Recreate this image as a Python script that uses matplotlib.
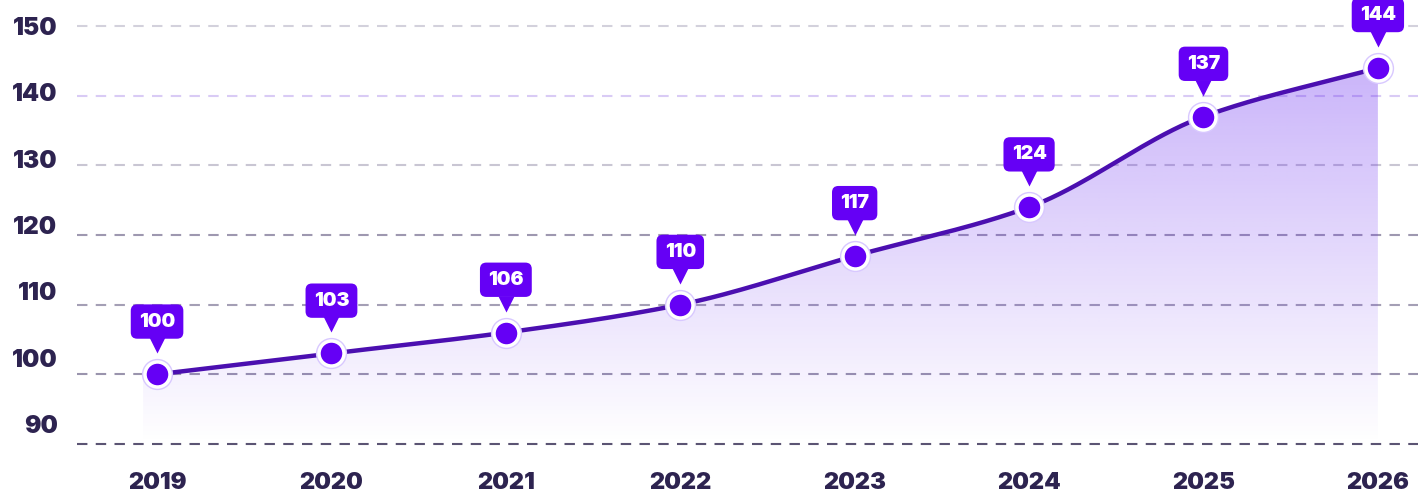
'''
line chart with filled gradient area and value callouts
'''
import numpy as np
import matplotlib
matplotlib.use("Agg")
import matplotlib.pyplot as plt
from matplotlib.transforms import offset_copy

years = ['2019', '2020', '2021', '2022', '2023', '2024', '2025', '2026']
values = [100, 103, 106, 110, 117, 124, 137, 144]
yTicks = [90, 100, 110, 120, 130, 140, 150]
gridColors = ['#5b5473', '#9a94ad', '#a49fb5', '#9e98b0', '#c9c6d3', '#d9cbf5', '#d3d1dc']

LINE = '#4b0fb0'
DOT = '#6500f5'
TEXT = '#2d2350'
WEIGHT = 'black'


def monotone(x, y, n=40):
	'''monotone cubic (Fritsch-Carlson) through the points'''
	x = np.asarray(x, float)
	y = np.asarray(y, float)
	h = np.diff(x)
	d = np.diff(y) / h
	m = np.zeros_like(y)
	m[0], m[-1] = d[0], d[-1]
	for i in range(1, len(y) - 1):
		if d[i - 1] * d[i] <= 0:
			m[i] = 0
		else:
			m[i] = 3 * (h[i - 1] + h[i]) / ((2 * h[i] + h[i - 1]) / d[i - 1] + (h[i] + 2 * h[i - 1]) / d[i])
	xs, ys = [], []
	for i in range(len(h)):
		t = np.linspace(0, 1, n, endpoint=(i == len(h) - 1))
		h00 = 2 * t**3 - 3 * t**2 + 1
		h10 = t**3 - 2 * t**2 + t
		h01 = -2 * t**3 + 3 * t**2
		h11 = t**3 - t**2
		xs.append(x[i] + t * h[i])
		ys.append(h00 * y[i] + h10 * h[i] * m[i] + h01 * y[i + 1] + h11 * h[i] * m[i + 1])
	return np.concatenate(xs), np.concatenate(ys)


def main():
	plt.rcParams['font.family'] = ['Inter', 'DejaVu Sans']
	fig = plt.figure(figsize=(14.18, 4.93), dpi=100)
	ax = fig.add_axes([77 / 1418., 38 / 493., 1 - 77 / 1418., 445 / 493.])

	X = np.arange(len(years))
	ax.set_xlim(-0.459, 7.23)
	ax.set_ylim(88.42, 152.3)

	# dashed grid
	for v, c in zip(yTicks, gridColors):
		ax.axhline(v, color=c, lw=1.5, dashes=(5, 4), zorder=1)

	# smooth line + gradient fill
	xs, ys = monotone(X, values)
	fillX = np.concatenate([[X[0] - 0.08], xs])
	fillY = np.concatenate([[ys[0]], ys])
	poly = ax.fill_between(fillX, fillY, 90, color='none', lw=0)
	grad = np.zeros((256, 2, 4))
	base = np.array([106, 44, 240]) / 255.
	grad[:, :, :3] = base
	grad[:, :, 3] = np.linspace(0.36, 0.0, 256)[:, None]
	img = ax.imshow(grad, extent=[fillX[0], X[-1], 90, 145], aspect='auto', origin='upper', zorder=2)
	img.set_clip_path(poly.get_paths()[0], transform=ax.transData)

	ax.plot(xs, ys, color=LINE, lw=3.2, zorder=3, solid_capstyle='round')
	ax.plot(X, values, 'o', ms=21.5, mfc='white', mec='#d8c8ff', mew=1.0, zorder=4)
	ax.plot(X, values, 'o', ms=15.5, mfc=DOT, mec='none', zorder=5)

	# callouts
	tri = offset_copy(ax.transData, fig=fig, x=0, y=29, units='dots')
	ax.plot(X, values, 'v', ms=11, mfc=DOT, mec='none', transform=tri, zorder=6)
	for x, v in zip(X, values):
		ax.annotate(str(v), xy=(x, v), xytext=(0, 38), textcoords='offset points',
			ha='center', va='center', color='white', fontsize=14, fontweight=WEIGHT, zorder=7,
			bbox=dict(boxstyle='round,pad=0.42,rounding_size=0.33', fc=DOT, ec='none'))

	ax.set_xticks(X)
	ax.set_xticklabels(years)
	ax.set_yticks([])
	ax.tick_params(axis='x', length=0, pad=12, labelsize=17, labelcolor=TEXT)
	for lab in ax.get_xticklabels():
		lab.set_fontweight(WEIGHT)
	for s in ax.spines.values():
		s.set_visible(False)

	# y labels sit on a slightly compressed scale
	ax2 = ax.twinx()
	ax2.set_ylim(85.33, 152.41)
	ax2.yaxis.tick_left()
	ax2.set_yticks(yTicks)
	ax2.tick_params(axis='y', length=0, pad=14, labelsize=17.5, labelcolor=TEXT)
	for lab in ax2.get_yticklabels():
		lab.set_fontweight(WEIGHT)
	for s in ax2.spines.values():
		s.set_visible(False)

	fig.savefig('out.png', dpi=100)


if __name__ == '__main__':
	main()
